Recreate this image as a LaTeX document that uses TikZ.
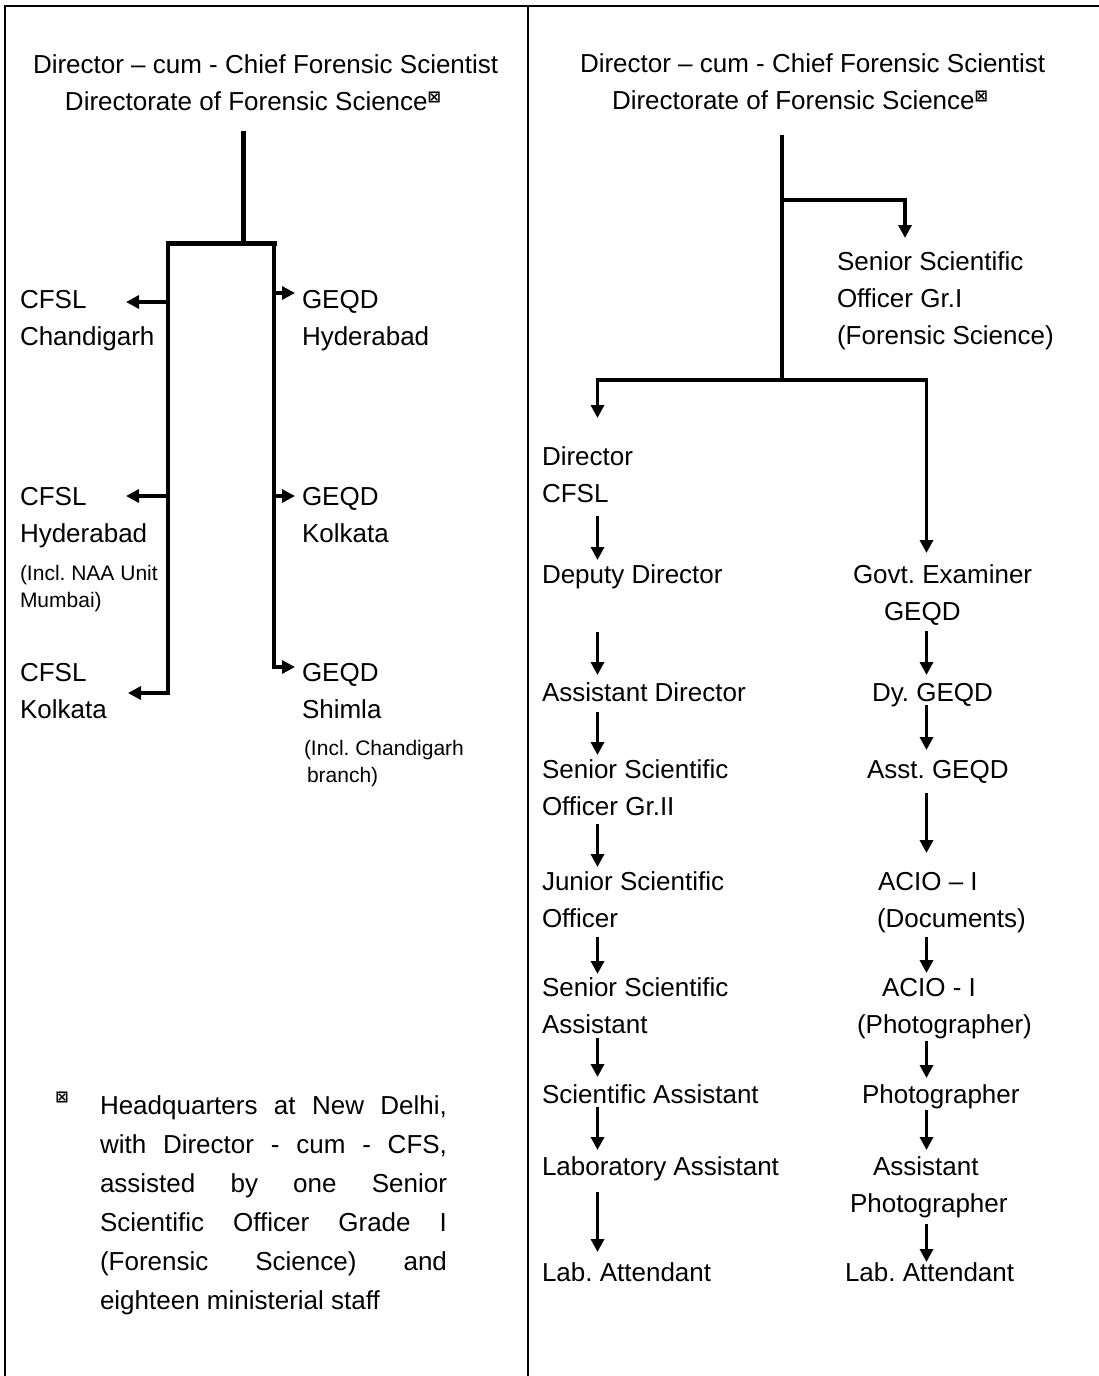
\documentclass[tikz,border=0pt]{standalone}
\usepackage{fontspec}
\setmainfont{Liberation Sans}
\newfontfamily\symfont{DejaVu Sans}
\usetikzlibrary{arrows.meta,calc}
\frenchspacing
\newcommand\ms{\rule[-10.5pt]{0pt}{37pt}}
\newcommand\sms{\rule[-7pt]{0pt}{27pt}}
\newcommand\hqsym{\raisebox{8pt}{\symfont\bfseries\fontsize{16}{16}\selectfont ⊠}}
\begin{document}
\begin{tikzpicture}[x=1pt,y=-1pt,
  lbl/.style={inner sep=0pt,outer sep=0pt,anchor=north west,align=left,font=\fontsize{26}{37}\selectfont},
  small/.style={lbl,font=\fontsize{21}{27}\selectfont},
  frame/.style={line width=2pt},
  heavy/.style={line width=5pt},
  conn/.style={line width=3.5pt},
  arr/.style={conn,-{Triangle[length=13pt,width=13pt]}}]
\useasboundingbox (0,0) rectangle (1099,1376);
% frame
\draw[frame] (5,1376) -- (5,6) -- (1099,6);
\draw[frame] (528,6) -- (528,1376);

% ---------------- left panel ----------------
\node[lbl] (t1) at (33,47) {\ms Director – cum - Chief Forensic Scientist\\\ms\hspace{32pt}Directorate of Forensic Science\hqsym};
\node[lbl] (cfsl1) at (20,281.5) {\ms CFSL\\\ms Chandigarh};
\node[lbl] (geqd1) at (302,281.5) {\ms GEQD\\\ms Hyderabad};
\node[lbl] (cfsl2) at (20,478.5) {\ms CFSL\\\ms Hyderabad};
\node[small] (naa) at (20,560.5) {\sms(Incl. NAA Unit\\\sms Mumbai)};
\node[lbl] (geqd2) at (302,478.5) {\ms GEQD\\\ms Kolkata};
\node[lbl] (cfsl3) at (20,654.5) {\ms CFSL\\\ms Kolkata};
\node[lbl] (geqd3) at (302,654.5) {\ms GEQD\\\ms Shimla};
\node[small] (chd) at (304,735.5) {\sms(Incl. Chandigarh\\\sms\hspace{3pt}branch)};

\node[inner sep=0pt,font=\symfont\bfseries\fontsize{16}{16}\selectfont] (hqs) at (62,1097) {⊠};
\node[lbl,text width=347pt,align=justify,font=\fontsize{26}{39}\selectfont] (hq) at (100,1087.8)
  {\rule{0pt}{26.5pt}Headquarters at New Delhi,\linebreak with Director - cum - CFS,\linebreak assisted by one Senior\linebreak Scientific Officer Grade I\linebreak (Forensic Science) and\linebreak eighteen ministerial staff};

\coordinate (stem) at (243,243);
\coordinate (lt) at (168,243);
\coordinate (rt) at (274,243);
\coordinate (la1) at (168,302);
\coordinate (la2) at (168,496);
\coordinate (la3) at (168,693);
\coordinate (ra1) at (274,293);
\coordinate (ra2) at (274,496);
\coordinate (ra3) at (274,667);

\draw[heavy, shorten <=9.5pt] (t1.south -| stem) -- (stem);
\draw[arr] (lt) -- (la3) -- ($(cfsl3.west |- la3)+(108,0)$);
\draw[arr] (la1) -- ($(cfsl1.west |- la1)+(106,0)$);
\draw[arr] (la2) -- ($(cfsl2.west |- la2)+(106,0)$);
\draw[arr, shorten >=7pt] (rt) -- (ra3) -- (geqd3.west |- ra3);
\draw[arr, shorten >=7pt] (ra1) -- (geqd1.west |- ra1);
\draw[arr, shorten >=7pt] (ra2) -- (geqd2.west |- ra2);
\draw[heavy, line cap=rect] (lt) -- (rt);

% ---------------- right panel ----------------
\node[lbl] (t2) at (580,46) {\ms Director – cum - Chief Forensic Scientist\\\ms\hspace{32pt}Directorate of Forensic Science\hqsym};
\node[lbl] (sso1) at (837,243.5) {\ms Senior Scientific\\\ms Officer Gr.I\\\ms(Forensic Science)};

\node[lbl] (dirc) at (542,438.5) {\ms Director\\\ms CFSL};
\node[lbl] (ddir) at (542,556.5) {\ms Deputy Director};
\node[lbl] (adir) at (542,674.5) {\ms Assistant Director};
\node[lbl] (sso2) at (542,751.5) {\ms Senior Scientific\\\ms Officer Gr.II};
\node[lbl] (jso) at (542,863.5) {\ms Junior Scientific\\\ms Officer};
\node[lbl] (ssa) at (542,969.5) {\ms Senior Scientific\\\ms Assistant};
\node[lbl] (sa) at (542,1076.5) {\ms Scientific Assistant};
\node[lbl] (la) at (542,1148.5) {\ms Laboratory Assistant};
\node[lbl] (lab1) at (542,1254.5) {\ms Lab. Attendant};

\node[lbl] (govt) at (853,556.5) {\ms Govt. Examiner\\\ms\hspace{31pt}GEQD};
\node[lbl] (dy) at (872,674.5) {\ms Dy. GEQD};
\node[lbl] (asst) at (867,751.5) {\ms Asst. GEQD};
\node[lbl] (acio1) at (877,863.5) {\ms\hspace{1pt}ACIO – I\\\ms(Documents)};
\node[lbl] (acio2) at (857,969.5) {\ms\hspace{25pt}ACIO - I\\\ms(Photographer)};
\node[lbl] (photo) at (862,1076.5) {\ms Photographer};
\node[lbl] (asstph) at (850,1148.5) {\ms\hspace{23pt}Assistant\\\ms Photographer};
\node[lbl] (lab2) at (845,1254.5) {\ms Lab. Attendant};

\coordinate (sb) at (782,200);
\coordinate (sbx) at (905,200);
\coordinate (hb) at (782,380);
\coordinate (bl) at (597.5,380);
\coordinate (br) at (926.5,380);

\draw[conn, shorten <=14.5pt] (t2.south -| hb) -- (hb);
\draw[arr, shorten >=5.5pt] (sb) -- (sbx) -- (sbx |- sso1.north);
\draw[conn, line cap=rect] (bl) -- (br);
\draw[arr, shorten >=20.5pt] (bl) -- (dirc.north -| bl);
\draw[arr, shorten >=3.5pt] (br) -- (govt.north -| br);

% left chain
\draw[arr, shorten <=3.5pt, shorten >=-3.5pt] (dirc.south -| bl) -- (ddir.north -| bl);
\draw[arr, shorten <=38.5pt, shorten >=-0.5pt] (ddir.south -| bl) -- (adir.north -| bl);
\draw[arr, shorten <=0.5pt, shorten >=-3.5pt] (adir.south -| bl) -- (sso2.north -| bl);
\draw[arr, shorten <=-1.5pt, shorten >=-3.5pt] (sso2.south -| bl) -- (jso.north -| bl);
\draw[arr, shorten <=-0.5pt, shorten >=-4.5pt] (jso.south -| bl) -- (ssa.north -| bl);
\draw[arr, shorten <=-5.5pt, shorten >=-0.5pt] (ssa.south -| bl) -- (sa.north -| bl);
\draw[arr, shorten <=-6.5pt, shorten >=-1.5pt] (sa.south -| bl) -- (la.north -| bl);
\draw[arr, shorten <=6.5pt, shorten >=2.5pt] (la.south -| bl) -- (lab1.north -| bl);

% right chain
\draw[arr, shorten <=0.5pt, shorten >=-0.5pt] (govt.south -| br) -- (dy.north -| br);
\draw[arr, shorten <=-6.5pt, shorten >=1.5pt] (dy.south -| br) -- (asst.north -| br);
\draw[arr, shorten <=4.5pt, shorten >=10.5pt] (asst.south -| br) -- (acio1.north -| br);
\draw[arr, shorten <=-0.5pt, shorten >=-3.5pt] (acio1.south -| br) -- (acio2.north -| br);
\draw[arr, shorten <=-2.5pt, shorten >=-1.5pt] (acio2.south -| br) -- (photo.north -| br);
\draw[arr, shorten <=-3.5pt, shorten >=-1.5pt] (photo.south -| br) -- (asstph.north -| br);
\draw[arr, shorten <=1.5pt, shorten >=-7.5pt] (asstph.south -| br) -- (lab2.north -| br);
\end{tikzpicture}
\end{document}
